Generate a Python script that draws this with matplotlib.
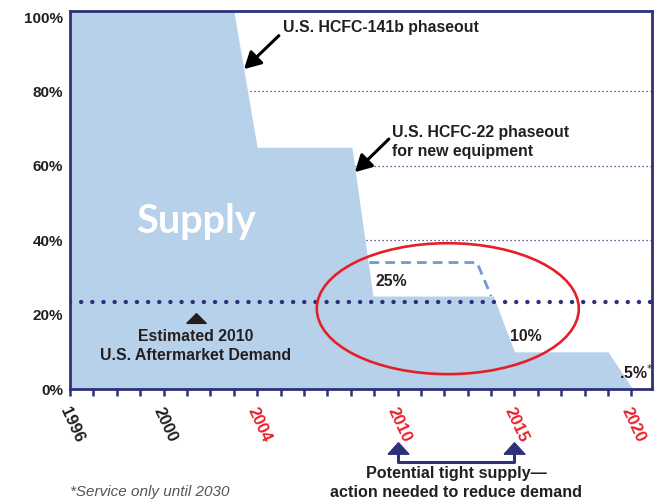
import numpy as np
import matplotlib
matplotlib.use('Agg')
import matplotlib.pyplot as plt
from matplotlib.patches import Ellipse

plt.rcParams['font.family'] = ['Liberation Sans', 'DejaVu Sans']

# supply schedule (% of baseline)
supply_years = [1996, 2003.0, 2004.0, 2008.05, 2008.95, 2014.1, 2015.0, 2019.0, 2020.0]
supply_pct = [100, 100, 65, 65, 25, 25, 10, 10, 0.5]

# earlier schedule shown dashed
old_years = [2008.8, 2013.4, 2014.0]
old_pct = [34, 34, 25]

demand_pct = 23.4
grid_levels = [40, 60, 80]

label_years = [1996, 2000, 2004, 2010, 2015, 2020]
label_colors = ['#231f20', '#231f20', '#e8202a', '#e8202a', '#e8202a', '#e8202a']
ytick_vals = [0, 20, 40, 60, 80, 100]

navy = '#2e3179'
fill_c = '#b8d1ea'
dark = '#231f20'
red = '#e3202a'

ymax = 101.7
xmax = 2020.88

fig = plt.figure(figsize=(6.58, 5.03), dpi=100)
ax = fig.add_axes([0.1064, 0.2266, 0.8845, 0.7521])

for g in grid_levels:
    ax.axhline(g, color=navy, lw=0.9, ls=(0, (1, 2.2)), zorder=1)

top = np.where(np.array(supply_pct) >= 100, ymax, supply_pct)
ax.fill_between(supply_years, 0, top, color=fill_c, lw=0, zorder=2)

ax.plot(old_years, old_pct, color='#6f9bd1', lw=2, ls=(0, (3.5, 2.2)), zorder=3)

ax.axhline(demand_pct, color=navy, lw=3.2, ls=(0, (0.01, 2.5)),
           dash_capstyle='round', zorder=4)

ax.add_patch(Ellipse((2012.15, 21.6), 11.2, 35.2, fill=False, ec=red, lw=1.9, zorder=5))

ax.set_xlim(1996, xmax)
ax.set_ylim(0, ymax)
for s in ax.spines.values():
    s.set_color(navy)
    s.set_linewidth(2)

ax.set_xticks(range(1996, 2021))
ax.set_xticklabels([])
ax.tick_params(axis='x', direction='out', length=5, width=1.8, color=navy)
for yr, c in zip(label_years, label_colors):
    ax.text(yr - 0.25, -5.0, str(yr), rotation=-65, rotation_mode='anchor',
            ha='left', va='center', fontsize=12, fontweight='bold', color=c, clip_on=False)

ax.set_yticks(ytick_vals)
ax.set_yticklabels(['%d%%' % v for v in ytick_vals], fontsize=11, fontweight='bold', color=dark)
ax.tick_params(axis='y', length=0, pad=5)

ax.text(2001.4, 45, 'Supply', color='white', fontsize=28.5, fontweight='bold',
        family=['Lato', 'DejaVu Sans'], ha='center', va='center', zorder=6)

arrow = dict(arrowstyle='-|>,head_length=1.0,head_width=0.55', color='black', lw=2.2,
             shrinkA=0, shrinkB=0)
ax.annotate('', xy=(2003.44, 86), xytext=(2004.93, 95), arrowprops=arrow, zorder=6)
ax.text(2005.1, 97.3, 'U.S. HCFC-141b phaseout', fontsize=11.4, fontweight='bold',
        color=dark, ha='left', va='center')
ax.annotate('', xy=(2008.18, 58.3), xytext=(2009.63, 67.2), arrowprops=arrow, zorder=6)
ax.text(2009.76, 66.3, 'U.S. HCFC-22 phaseout\nfor new equipment', fontsize=11.4,
        fontweight='bold', color=dark, ha='left', va='center', linespacing=1.32)

ax.text(2009.08, 29, '25%', fontsize=11.4, fontweight='bold', color=dark, va='center', zorder=6)
ax.text(2014.8, 14, '10%', fontsize=11.4, fontweight='bold', color=dark, va='center', zorder=6)
ax.text(2019.45, 4.3, '.5%$^{*}$', fontsize=11.4, fontweight='bold', color=dark, va='center', zorder=6)

tri = [(-1, -0.5), (1, -0.5), (0, 0.5), (-1, -0.5)]
ax.plot([2001.38], [19.1], marker=tri, ms=14, color=dark, ls='none', zorder=6)
ax.text(2001.38, 11.6, 'Estimated 2010\nU.S. Aftermarket Demand', fontsize=11.4,
        fontweight='bold', color=dark, ha='center', va='center', linespacing=1.32, zorder=6)

# bracket below axis
ax.plot([2010, 2010, 2015, 2015], [-17.5, -19.6, -19.6, -17.5], color=navy, lw=2.2,
        clip_on=False)
tri2 = [(-1, -0.55), (1, -0.55), (0, 0.55), (-1, -0.55)]
ax.plot([2010, 2015], [-15.9, -15.9], marker=tri2, ms=15, color=navy, ls='none', clip_on=False)
ax.text(2012.5, -25.3, 'Potential tight supply\u2014\naction needed to reduce demand',
        fontsize=11.6, fontweight='bold', color=dark, ha='center', va='center',
        linespacing=1.32, clip_on=False)
ax.text(1996, -27.7, '*Service only until 2030', fontsize=11, style='italic',
        family=['Liberation Sans Narrow', 'Liberation Sans'], color='#555555',
        ha='left', va='center', clip_on=False)

fig.savefig('out.png', dpi=100)
